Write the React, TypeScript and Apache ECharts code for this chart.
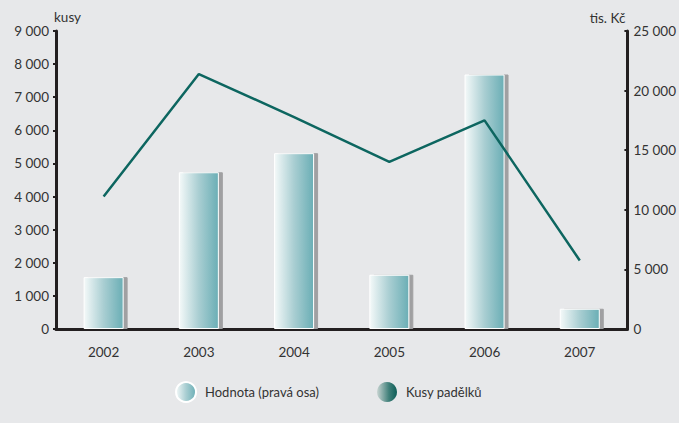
import React, { useEffect, useRef } from "react";
import * as echarts from "echarts";

const years = ["2002", "2003", "2004", "2005", "2006", "2007"];
const hodnota = [4350, 13150, 14750, 4550, 21350, 1700];
const kusy = [4000, 7700, 6400, 5050, 6300, 2070];
const leftTicks = { min: 0, max: 9000, interval: 1000 };
const rightTicks = { min: 0, max: 25000, interval: 5000 };

const fmt = (v: number) => String(v).replace(/\B(?=(\d{3})+(?!\d))/g, " ");
const FONT = "Lato, 'Open Sans', sans-serif";
const FS = 13.5;

const barGrad = new echarts.graphic.LinearGradient(0, 0, 1, 0, [
  { offset: 0, color: "#f4f9f9" },
  { offset: 0.5, color: "#a9ced2" },
  { offset: 1, color: "#6aaeb5" },
]);
const lineGrad = new echarts.graphic.LinearGradient(0, 0, 1, 0, [
  { offset: 0, color: "#c8d4d2" },
  { offset: 0.6, color: "#3f7f79" },
  { offset: 1, color: "#0d5e58" },
]);

export default function App() {
  const ref = useRef<HTMLDivElement>(null);
  useEffect(() => {
    document.body.style.margin = "0";
    const chart = echarts.init(ref.current!, null, { renderer: "svg" });
    const axisLine = { show: true, lineStyle: { color: "#231f20", width: 3 } };
    const label = { color: "#333", fontSize: FS, fontFamily: FONT };
    chart.setOption({
      animation: false,
      backgroundColor: "#e7e8ea",
      textStyle: { fontFamily: FONT },
      grid: { left: 56, right: 51, top: 31, bottom: 94 },
      legend: {
        bottom: 15,
        left: 170,
        itemWidth: 20,
        itemHeight: 20,
        itemGap: 58,
        icon: "circle",
        textStyle: { ...label, fontSize: 13, padding: [0, 0, 0, 4] },
        data: [
          { name: "Hodnota (pravá osa)", itemStyle: { color: barGrad } },
          { name: "Kusy padělků", itemStyle: { color: lineGrad } },
        ],
      },
      xAxis: {
        type: "category",
        data: years,
        axisLine: { show: true, lineStyle: { color: "#231f20", width: 3 } },
        axisTick: { show: false },
        axisLabel: { ...label, margin: 16 },
      },
      yAxis: [
        {
          type: "value",
          ...leftTicks,
          name: "kusy",
          nameGap: 6,
          nameTextStyle: { ...label, align: "left", padding: [0, 0, 0, -2] },
          axisLine,
          axisTick: { show: true, length: 3, lineStyle: { color: "#231f20", width: 2 } },
          axisLabel: { ...label, margin: 7, formatter: fmt },
          splitLine: { show: false },
        },
        {
          type: "value",
          ...rightTicks,
          name: "tis. Kč",
          nameGap: 6,
          nameTextStyle: { ...label, align: "right", padding: [0, 2, 0, 0] },
          axisLine,
          axisTick: { show: true, inside: true, length: 3, lineStyle: { color: "#231f20", width: 2 } },
          axisLabel: { ...label, margin: 6, formatter: fmt },
          splitLine: { show: false },
        },
      ],
      series: [
        {
          name: "Hodnota (pravá osa)",
          type: "bar",
          yAxisIndex: 1,
          data: hodnota,
          barWidth: 40,
          z: 2,
          itemStyle: {
            color: barGrad,
            borderColor: "#ffffff",
            borderWidth: 1,
            shadowColor: "#a0a0a2",
            shadowOffsetX: 4,
            shadowOffsetY: 0,
            shadowBlur: 0,
          },
        },
        {
          name: "Kusy padělků",
          type: "line",
          yAxisIndex: 0,
          data: kusy,
          symbol: "none",
          z: 3,
          lineStyle: { color: "#0d6660", width: 2.5 },
          itemStyle: { color: lineGrad },
        },
      ],
    });
    return () => chart.dispose();
  }, []);
  return (
    <div
      ref={ref}
      style={{ position: "absolute", left: 0, top: 0, width: 679, height: 423 }}
    />
  );
}
